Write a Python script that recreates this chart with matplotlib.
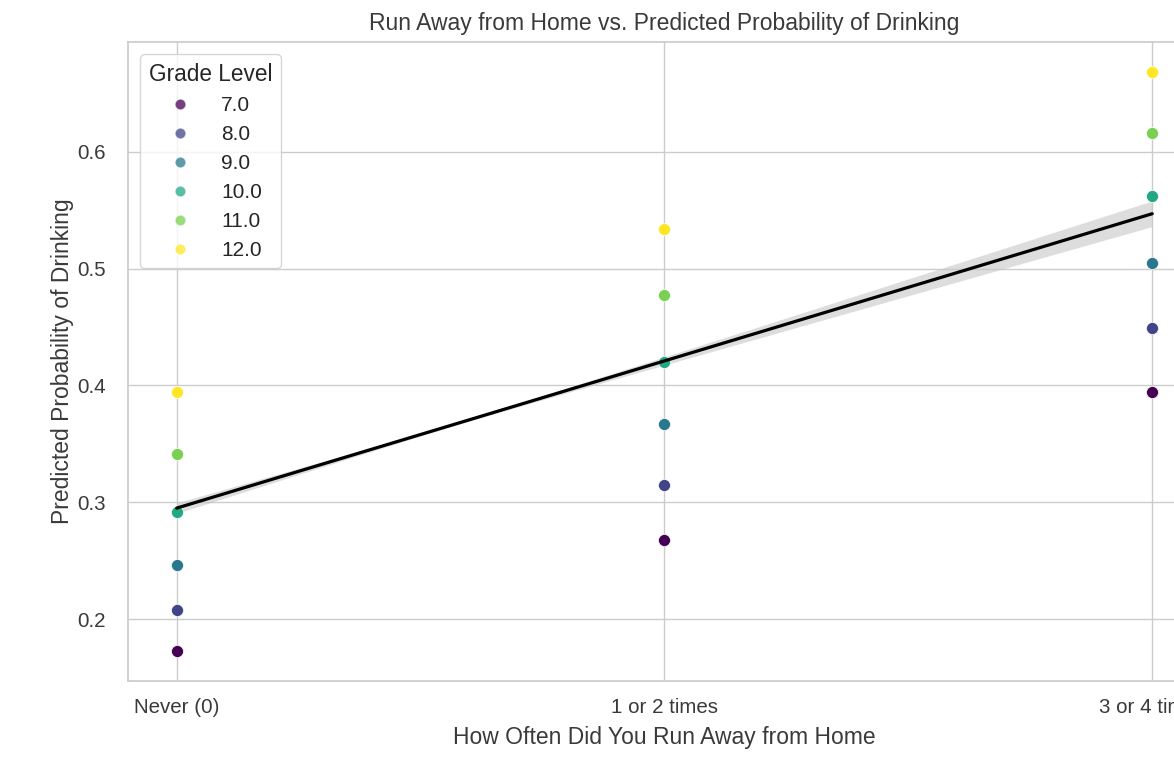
import numpy as np
import matplotlib
matplotlib.use("Agg")
import matplotlib.pyplot as plt
import seaborn as sns
from matplotlib.lines import Line2D

# --- Données ---
categories = ["Never (0)", "1 or 2 times", "3 or 4 times"]
grades = [7.0, 8.0, 9.0, 10.0, 11.0, 12.0]
# probabilité prédite par niveau (une liste par niveau, une valeur par catégorie)
prob_par_niveau = {
    7.0: [0.173, 0.268, 0.394],
    8.0: [0.208, 0.315, 0.449],
    9.0: [0.246, 0.367, 0.505],
    10.0: [0.292, 0.420, 0.562],
    11.0: [0.341, 0.477, 0.616],
    12.0: [0.394, 0.534, 0.668],
}
# droite de régression (ajustée sur les données brutes) et demi-largeur de l'IC
fit_x = [0, 1, 2]
fit_y = [0.295, 0.421, 0.547]
ci_demi = [0.0045, 0.0035, 0.011]

sns.set_theme(style="whitegrid")
plt.rcParams["font.family"] = ["Liberation Sans", "DejaVu Sans"]

fig = plt.figure(figsize=(11.74, 7.58), dpi=100)
ax = fig.add_axes([0.109, 0.1016, 0.914, 0.843])

cmap = plt.get_cmap("viridis")
couleurs = {g: cmap((g - grades[0]) / (grades[-1] - grades[0])) for g in grades}

for g in grades:
    ax.scatter(fit_x, prob_par_niveau[g], color=couleurs[g], s=75,
               edgecolor="white", linewidth=0.5, zorder=3)

# régression : variance quadratique en x -> bande IC
x_fin = np.linspace(fit_x[0], fit_x[-1], 200)
pente = (fit_y[-1] - fit_y[0]) / (fit_x[-1] - fit_x[0])
y_fin = fit_y[0] + pente * x_fin
var = np.polyval(np.polyfit(fit_x, np.square(ci_demi), 2), x_fin)
hw = np.sqrt(np.clip(var, 0, None))
ax.fill_between(x_fin, y_fin - hw, y_fin + hw, color="0.78", alpha=0.6,
                linewidth=0, zorder=2)
ax.plot(x_fin, y_fin, color="black", lw=2.3, zorder=4)

ax.set_xticks(fit_x)
ax.set_xticklabels(categories)
ax.set_xlim(-0.1, 2.1)
ax.set_ylim(0.147, 0.694)
ax.set_yticks([0.2, 0.3, 0.4, 0.5, 0.6])
ax.tick_params(labelsize=14.8, colors="#3a3a3a")
ax.tick_params(axis="x", pad=6.5)
ax.tick_params(axis="y", pad=10)
for s in ax.spines.values():
    s.set_color("#cccccc")

ax.set_title("Run Away from Home vs. Predicted Probability of Drinking",
             fontsize=16.5, color="#3a3a3a", pad=8.5)
ax.set_xlabel("How Often Did You Run Away from Home", fontsize=16.5,
              color="#3a3a3a", labelpad=6)
ax.set_ylabel("Predicted Probability of Drinking", fontsize=16.5,
              color="#3a3a3a", labelpad=2)

poignees = [Line2D([0], [0], marker="o", linestyle="", markersize=8,
                   markerfacecolor=couleurs[g], markeredgecolor="white",
                   alpha=0.75) for g in grades]
leg = ax.legend(poignees, [f"{g:.1f}" for g in grades], title="Grade Level",
                loc="upper left", fontsize=15, title_fontsize=16.3,
                frameon=True, handletextpad=1.0, labelspacing=0.48,
                borderaxespad=0.6)
leg.get_frame().set_edgecolor("#cccccc")

fig.savefig("out.png", dpi=100)
